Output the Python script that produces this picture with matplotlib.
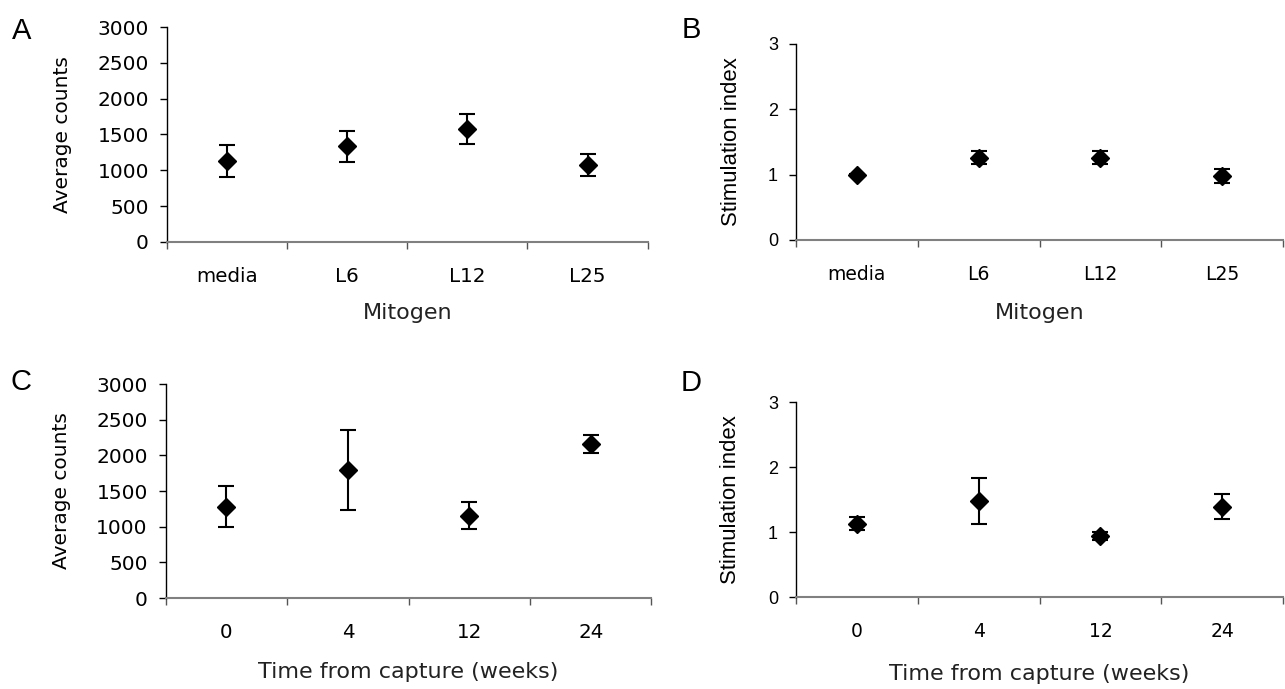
import matplotlib.pyplot as plt
import numpy as np

plt.rcParams['font.family'] = ['Liberation Sans', 'DejaVu Sans']

mitogen = ["media", "L6", "L12", "L25"]
weeks = ["0", "4", "12", "24"]

counts_mitogen = [1130, 1335, 1575, 1070]
counts_mitogen_err = [225, 215, 205, 152]
si_mitogen = [1.0, 1.26, 1.26, 0.98]
si_mitogen_err = [0.01, 0.1, 0.095, 0.11]

counts_weeks = [1280, 1795, 1155, 2158]
counts_weeks_err = [290, 560, 185, 122]
si_weeks = [1.13, 1.48, 0.94, 1.39]
si_weeks_err = [0.1, 0.355, 0.06, 0.19]

fig = plt.figure(figsize=(12.85, 6.89), dpi=100)

# letter, rect, categories, values, errors, ylabel, xlabel, ymax, ystep,
# y-axis font, tick size, category size, ylabel size, ylabel x, xlabel y, letter pos
panels = [
    ("A", [0.130, 0.6488, 0.374, 0.312], mitogen, counts_mitogen, counts_mitogen_err,
     "Average counts", "Mitogen", 3000, 500,
     "DejaVu Sans", 14.5, 14.3, 14.5, -0.218, -0.330, (12, 17)),
    ("B", [0.6195, 0.6517, 0.379, 0.2845], mitogen, si_mitogen, si_mitogen_err,
     "Stimulation index", "Mitogen", 3, 1,
     "Liberation Sans", 13, 13.5, 15.9, -0.1335, -0.372, (682, 16)),
    ("C", [0.129, 0.132, 0.378, 0.3106], weeks, counts_weeks, counts_weeks_err,
     "Average counts", "Time from capture (weeks)", 3000, 500,
     "DejaVu Sans", 14.5, 14.3, 14.5, -0.214, -0.346, (10, 368)),
    ("D", [0.6195, 0.1335, 0.379, 0.283], weeks, si_weeks, si_weeks_err,
     "Stimulation index", "Time from capture (weeks)", 3, 1,
     "Liberation Sans", 13, 13.5, 15.9, -0.135, -0.395, (681, 369)),
]

W, H = 1285, 689

for (letter, rect, cats, vals, errs, ylab, xlab, ymax, ystep,
     fam, tsize, csize, ylsize, ylx, xly, lpos) in panels:
    ax = fig.add_axes(rect)
    x = np.arange(len(cats))
    ax.errorbar(x, vals, yerr=errs, fmt="D", color="black", ms=9.5,
                elinewidth=1.5, capsize=6, capthick=1.5)
    ax.set_xlim(-0.5, len(cats) - 0.5)
    ax.set_ylim(0, ymax)
    yt = np.arange(0, ymax + ystep / 2, ystep)
    ax.set_yticks(yt)
    ax.set_yticklabels([f"{v:g}" for v in yt], family=fam, fontsize=tsize)
    ax.set_xticks(np.arange(-0.5, len(cats), 1.0))
    ax.set_xticklabels([])
    ax.set_xticks(x, minor=True)
    ax.set_xticklabels(cats, minor=True, family="DejaVu Sans", fontsize=csize)
    ax.tick_params(axis="x", which="minor", length=0, pad=18)
    ax.tick_params(axis="x", which="major", length=5, width=1, color="#555555", direction="out")
    ax.tick_params(axis="y", length=5, width=1, direction="out", pad=8)
    ax.spines["top"].set_visible(False)
    ax.spines["right"].set_visible(False)
    ax.spines["bottom"].set_color("#808080")
    ax.spines["bottom"].set_linewidth(1.5)
    ax.spines["left"].set_linewidth(1)
    ax.set_ylabel(ylab, family=fam, fontsize=ylsize, va="center")
    ax.yaxis.set_label_coords(ylx, 0.5)
    ax.set_xlabel(xlab, family="DejaVu Sans", fontsize=16, va="center", color="#222222")
    ax.xaxis.set_label_coords(0.5, xly)
    fig.text(lpos[0] / W, 1 - lpos[1] / H, letter, fontsize=21, va="top", ha="left")

fig.savefig("out.png", dpi=100)
